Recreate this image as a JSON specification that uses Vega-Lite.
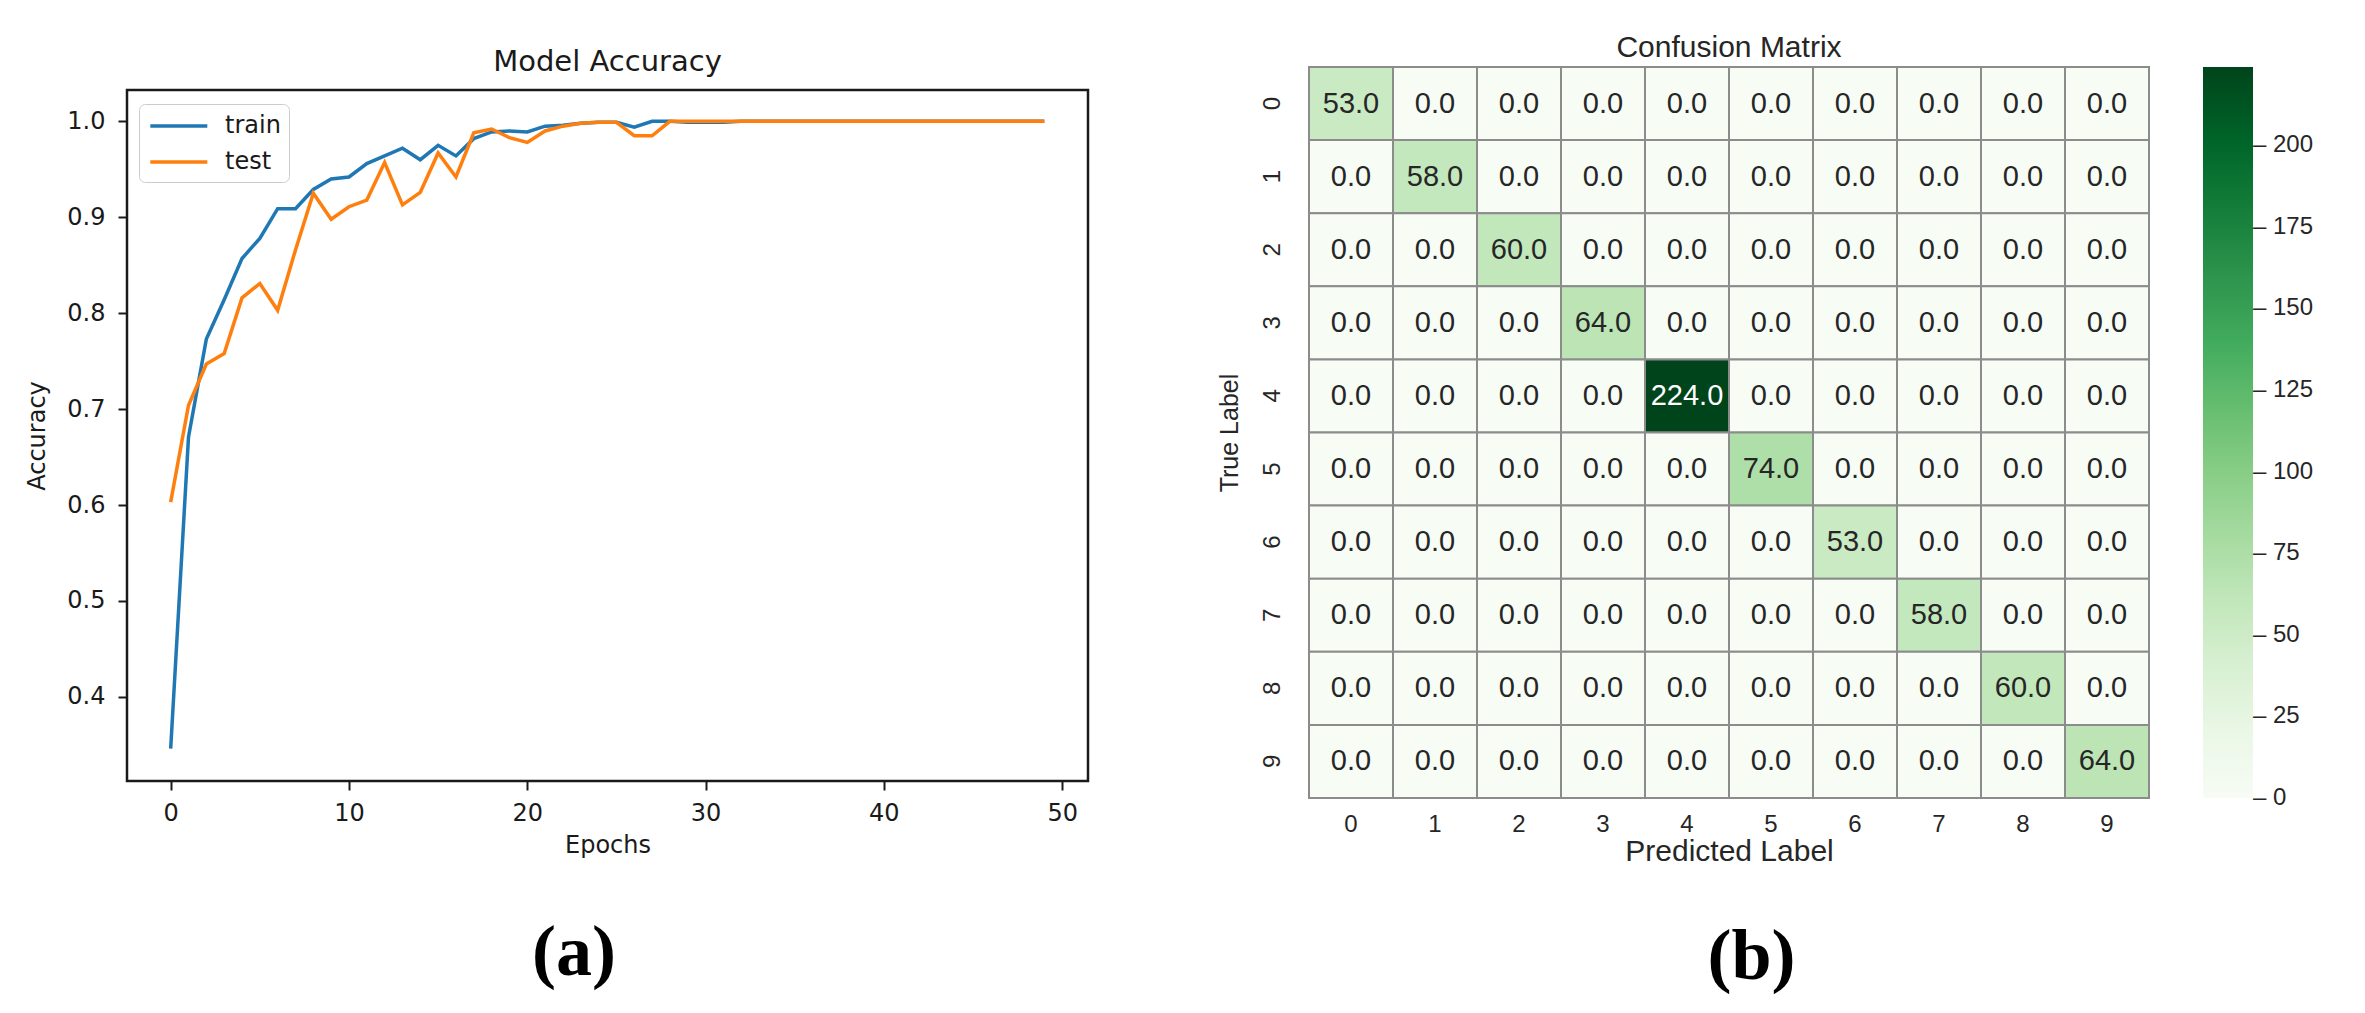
{
  "$schema": "https://vega.github.io/schema/vega-lite/v6.json",
  "background": "white",
  "padding": {"left": 24, "top": 33, "right": 0, "bottom": 15},
  "spacing": 126,
  "datasets": {
    "acc": [
      {"epoch":0,"series":"train","acc":0.346},{"epoch":1,"series":"train","acc":0.671},{"epoch":2,"series":"train","acc":0.773},{"epoch":3,"series":"train","acc":0.814},{"epoch":4,"series":"train","acc":0.857},{"epoch":5,"series":"train","acc":0.878},{"epoch":6,"series":"train","acc":0.909},{"epoch":7,"series":"train","acc":0.909},{"epoch":8,"series":"train","acc":0.929},{"epoch":9,"series":"train","acc":0.940},
      {"epoch":10,"series":"train","acc":0.942},{"epoch":11,"series":"train","acc":0.956},{"epoch":12,"series":"train","acc":0.964},{"epoch":13,"series":"train","acc":0.972},{"epoch":14,"series":"train","acc":0.960},{"epoch":15,"series":"train","acc":0.975},{"epoch":16,"series":"train","acc":0.964},{"epoch":17,"series":"train","acc":0.982},{"epoch":18,"series":"train","acc":0.989},{"epoch":19,"series":"train","acc":0.990},
      {"epoch":20,"series":"train","acc":0.989},{"epoch":21,"series":"train","acc":0.995},{"epoch":22,"series":"train","acc":0.996},{"epoch":23,"series":"train","acc":0.998},{"epoch":24,"series":"train","acc":0.999},{"epoch":25,"series":"train","acc":0.999},{"epoch":26,"series":"train","acc":0.994},{"epoch":27,"series":"train","acc":1.0},{"epoch":28,"series":"train","acc":1.0},{"epoch":29,"series":"train","acc":0.999},
      {"epoch":30,"series":"train","acc":0.999},{"epoch":31,"series":"train","acc":0.999},{"epoch":32,"series":"train","acc":1.0},{"epoch":33,"series":"train","acc":1.0},{"epoch":34,"series":"train","acc":1.0},{"epoch":35,"series":"train","acc":1.0},{"epoch":36,"series":"train","acc":1.0},{"epoch":37,"series":"train","acc":1.0},{"epoch":38,"series":"train","acc":1.0},{"epoch":39,"series":"train","acc":1.0},
      {"epoch":40,"series":"train","acc":1.0},{"epoch":41,"series":"train","acc":1.0},{"epoch":42,"series":"train","acc":1.0},{"epoch":43,"series":"train","acc":1.0},{"epoch":44,"series":"train","acc":1.0},{"epoch":45,"series":"train","acc":1.0},{"epoch":46,"series":"train","acc":1.0},{"epoch":47,"series":"train","acc":1.0},{"epoch":48,"series":"train","acc":1.0},{"epoch":49,"series":"train","acc":1.0},
      {"epoch":0,"series":"test","acc":0.603},{"epoch":1,"series":"test","acc":0.704},{"epoch":2,"series":"test","acc":0.747},{"epoch":3,"series":"test","acc":0.758},{"epoch":4,"series":"test","acc":0.816},{"epoch":5,"series":"test","acc":0.831},{"epoch":6,"series":"test","acc":0.803},{"epoch":7,"series":"test","acc":0.866},{"epoch":8,"series":"test","acc":0.925},{"epoch":9,"series":"test","acc":0.898},
      {"epoch":10,"series":"test","acc":0.911},{"epoch":11,"series":"test","acc":0.918},{"epoch":12,"series":"test","acc":0.957},{"epoch":13,"series":"test","acc":0.913},{"epoch":14,"series":"test","acc":0.926},{"epoch":15,"series":"test","acc":0.967},{"epoch":16,"series":"test","acc":0.942},{"epoch":17,"series":"test","acc":0.988},{"epoch":18,"series":"test","acc":0.992},{"epoch":19,"series":"test","acc":0.983},
      {"epoch":20,"series":"test","acc":0.978},{"epoch":21,"series":"test","acc":0.990},{"epoch":22,"series":"test","acc":0.995},{"epoch":23,"series":"test","acc":0.998},{"epoch":24,"series":"test","acc":0.999},{"epoch":25,"series":"test","acc":0.999},{"epoch":26,"series":"test","acc":0.985},{"epoch":27,"series":"test","acc":0.985},{"epoch":28,"series":"test","acc":1.0},{"epoch":29,"series":"test","acc":1.0},
      {"epoch":30,"series":"test","acc":1.0},{"epoch":31,"series":"test","acc":1.0},{"epoch":32,"series":"test","acc":1.0},{"epoch":33,"series":"test","acc":1.0},{"epoch":34,"series":"test","acc":1.0},{"epoch":35,"series":"test","acc":1.0},{"epoch":36,"series":"test","acc":1.0},{"epoch":37,"series":"test","acc":1.0},{"epoch":38,"series":"test","acc":1.0},{"epoch":39,"series":"test","acc":1.0},
      {"epoch":40,"series":"test","acc":1.0},{"epoch":41,"series":"test","acc":1.0},{"epoch":42,"series":"test","acc":1.0},{"epoch":43,"series":"test","acc":1.0},{"epoch":44,"series":"test","acc":1.0},{"epoch":45,"series":"test","acc":1.0},{"epoch":46,"series":"test","acc":1.0},{"epoch":47,"series":"test","acc":1.0},{"epoch":48,"series":"test","acc":1.0},{"epoch":49,"series":"test","acc":1.0}
    ],
    "cm": [
      {"t":0,"p":0,"v":53},{"t":0,"p":1,"v":0},{"t":0,"p":2,"v":0},{"t":0,"p":3,"v":0},{"t":0,"p":4,"v":0},{"t":0,"p":5,"v":0},{"t":0,"p":6,"v":0},{"t":0,"p":7,"v":0},{"t":0,"p":8,"v":0},{"t":0,"p":9,"v":0},
      {"t":1,"p":0,"v":0},{"t":1,"p":1,"v":58},{"t":1,"p":2,"v":0},{"t":1,"p":3,"v":0},{"t":1,"p":4,"v":0},{"t":1,"p":5,"v":0},{"t":1,"p":6,"v":0},{"t":1,"p":7,"v":0},{"t":1,"p":8,"v":0},{"t":1,"p":9,"v":0},
      {"t":2,"p":0,"v":0},{"t":2,"p":1,"v":0},{"t":2,"p":2,"v":60},{"t":2,"p":3,"v":0},{"t":2,"p":4,"v":0},{"t":2,"p":5,"v":0},{"t":2,"p":6,"v":0},{"t":2,"p":7,"v":0},{"t":2,"p":8,"v":0},{"t":2,"p":9,"v":0},
      {"t":3,"p":0,"v":0},{"t":3,"p":1,"v":0},{"t":3,"p":2,"v":0},{"t":3,"p":3,"v":64},{"t":3,"p":4,"v":0},{"t":3,"p":5,"v":0},{"t":3,"p":6,"v":0},{"t":3,"p":7,"v":0},{"t":3,"p":8,"v":0},{"t":3,"p":9,"v":0},
      {"t":4,"p":0,"v":0},{"t":4,"p":1,"v":0},{"t":4,"p":2,"v":0},{"t":4,"p":3,"v":0},{"t":4,"p":4,"v":224},{"t":4,"p":5,"v":0},{"t":4,"p":6,"v":0},{"t":4,"p":7,"v":0},{"t":4,"p":8,"v":0},{"t":4,"p":9,"v":0},
      {"t":5,"p":0,"v":0},{"t":5,"p":1,"v":0},{"t":5,"p":2,"v":0},{"t":5,"p":3,"v":0},{"t":5,"p":4,"v":0},{"t":5,"p":5,"v":74},{"t":5,"p":6,"v":0},{"t":5,"p":7,"v":0},{"t":5,"p":8,"v":0},{"t":5,"p":9,"v":0},
      {"t":6,"p":0,"v":0},{"t":6,"p":1,"v":0},{"t":6,"p":2,"v":0},{"t":6,"p":3,"v":0},{"t":6,"p":4,"v":0},{"t":6,"p":5,"v":0},{"t":6,"p":6,"v":53},{"t":6,"p":7,"v":0},{"t":6,"p":8,"v":0},{"t":6,"p":9,"v":0},
      {"t":7,"p":0,"v":0},{"t":7,"p":1,"v":0},{"t":7,"p":2,"v":0},{"t":7,"p":3,"v":0},{"t":7,"p":4,"v":0},{"t":7,"p":5,"v":0},{"t":7,"p":6,"v":0},{"t":7,"p":7,"v":58},{"t":7,"p":8,"v":0},{"t":7,"p":9,"v":0},
      {"t":8,"p":0,"v":0},{"t":8,"p":1,"v":0},{"t":8,"p":2,"v":0},{"t":8,"p":3,"v":0},{"t":8,"p":4,"v":0},{"t":8,"p":5,"v":0},{"t":8,"p":6,"v":0},{"t":8,"p":7,"v":0},{"t":8,"p":8,"v":60},{"t":8,"p":9,"v":0},
      {"t":9,"p":0,"v":0},{"t":9,"p":1,"v":0},{"t":9,"p":2,"v":0},{"t":9,"p":3,"v":0},{"t":9,"p":4,"v":0},{"t":9,"p":5,"v":0},{"t":9,"p":6,"v":0},{"t":9,"p":7,"v":0},{"t":9,"p":8,"v":0},{"t":9,"p":9,"v":64}
    ]
  },
  "hconcat": [
    {
      "title": {"text": "(a)", "orient": "bottom", "anchor": "middle", "font": "Liberation Serif", "fontSize": 72, "fontWeight": "bold", "color": "black", "offset": 60, "dx": 17},
      "spacing": 0,
      "bounds": "flush",
      "vconcat": [
        {
          "width": 961,
          "height": 23,
          "view": {"stroke": null},
          "data": {"values": []},
          "mark": "point"
        },
        {
          "width": 961,
          "height": 691,
          "title": {"text": "Model Accuracy", "font": "DejaVu Sans", "fontSize": 29, "fontWeight": "normal", "color": "#1a1a1a", "offset": 13.5},
          "view": {"stroke": "#1a1a1a", "strokeWidth": 2.5},
          "data": {"name": "acc"},
          "mark": {"type": "line", "strokeWidth": 3.5},
          "encoding": {
            "x": {
              "field": "epoch", "type": "quantitative",
              "scale": {"domain": [-2.45, 51.45], "nice": false, "zero": false},
              "axis": {"values": [0, 10, 20, 30, 40, 50], "title": "Epochs", "grid": false, "domain": false, "tickColor": "#1a1a1a", "tickSize": 9, "tickWidth": 2, "labelFont": "DejaVu Sans", "labelFontSize": 24, "labelColor": "#1a1a1a", "labelPadding": 11, "titleFont": "DejaVu Sans", "titleFontSize": 24, "titleFontWeight": "normal", "titleColor": "#1a1a1a", "titlePadding": 8}
            },
            "y": {
              "field": "acc", "type": "quantitative",
              "scale": {"domain": [0.3123, 1.0327], "nice": false, "zero": false},
              "axis": {"values": [0.4, 0.5, 0.6, 0.7, 0.8, 0.9, 1.0], "format": ".1f", "title": "Accuracy", "grid": false, "domain": false, "tickColor": "#1a1a1a", "tickSize": 9, "tickWidth": 2, "labelFont": "DejaVu Sans", "labelFontSize": 24, "labelColor": "#1a1a1a", "labelPadding": 13, "titleFont": "DejaVu Sans", "titleFontSize": 24, "titleFontWeight": "normal", "titleColor": "#1a1a1a", "titlePadding": 17}
            },
            "color": {
              "field": "series", "type": "nominal",
              "scale": {"domain": ["train", "test"], "range": ["#1f77b4", "#ff7f0e"]},
              "legend": {"title": null, "orient": "none", "legendX": 12, "legendY": 37, "symbolType": "M-0.89,0H3.86", "symbolSize": 576, "symbolStrokeWidth": 3.5, "labelFont": "DejaVu Sans", "labelFontSize": 24, "labelColor": "#1a1a1a", "labelOffset": 50, "labelExpr": "datum.label + '  '", "rowPadding": 10, "padding": 8, "fillColor": "white", "strokeColor": "#cccccc", "cornerRadius": 6}
            }
          }
        }
      ]
    },
    {
      "title": {"text": "(b)", "orient": "bottom", "anchor": "middle", "font": "Liberation Serif", "fontSize": 72, "fontWeight": "bold", "color": "black", "offset": 56, "dx": -14},
      "vconcat": [
        {
          "width": 840,
          "height": 731,
          "title": {"text": "Confusion Matrix", "font": "Liberation Sans", "fontSize": 30, "fontWeight": "normal", "color": "#262626", "offset": 3},
          "view": {"stroke": null},
          "data": {"name": "cm"},
          "encoding": {
            "x": {
              "field": "p", "type": "ordinal",
              "scale": {"paddingInner": 0, "paddingOuter": 0},
              "axis": {"title": "Predicted Label", "labelAngle": 0, "ticks": false, "domain": false, "labelFont": "Liberation Sans", "labelFontSize": 24, "labelColor": "#262626", "labelPadding": 14, "titleFont": "Liberation Sans", "titleFontSize": 30, "titleFontWeight": "normal", "titleColor": "#262626", "titlePadding": 0}
            },
            "y": {
              "field": "t", "type": "ordinal",
              "scale": {"paddingInner": 0, "paddingOuter": 0},
              "axis": {"title": "True Label", "labelAngle": 270, "ticks": false, "domain": false, "labelFont": "Liberation Sans", "labelFontSize": 24, "labelColor": "#262626", "labelPadding": 25, "titleFont": "Liberation Sans", "titleFontSize": 25, "titleFontWeight": "normal", "titleColor": "#262626", "titlePadding": 18}
            }
          },
          "layer": [
            {
              "mark": {"type": "rect", "stroke": "#8c8c8c", "strokeWidth": 2},
              "encoding": {
                "color": {
                  "field": "v", "type": "quantitative",
                  "scale": {"type": "linear", "interpolate": "rgb", "domain": [0, 28, 56, 84, 112, 140, 168, 196, 224], "range": ["#f7fcf5", "#e5f5e0", "#c7e9c0", "#a1d99b", "#74c476", "#41ab5d", "#238b45", "#006d2c", "#00441b"]},
                  "legend": {"title": null, "orient": "right", "offset": 53, "direction": "vertical", "gradientLength": 731, "gradientThickness": 50, "gradientStrokeWidth": 0, "values": [0.05, 25, 50, 75, 100, 125, 150, 175, 200], "format": ".0f", "labelExpr": "'\u2013 ' + datum.label", "labelOverlap": false, "labelFont": "Liberation Sans", "labelFontSize": 24, "labelColor": "#262626", "labelOffset": 0}
                }
              }
            },
            {
              "mark": {"type": "text", "font": "Liberation Sans", "fontSize": 29},
              "encoding": {
                "text": {"field": "v", "type": "quantitative", "format": ".1f"},
                "color": {"condition": {"test": "datum.v > 150", "value": "white"}, "value": "#262626"}
              }
            }
          ]
        }
      ]
    }
  ]
}
